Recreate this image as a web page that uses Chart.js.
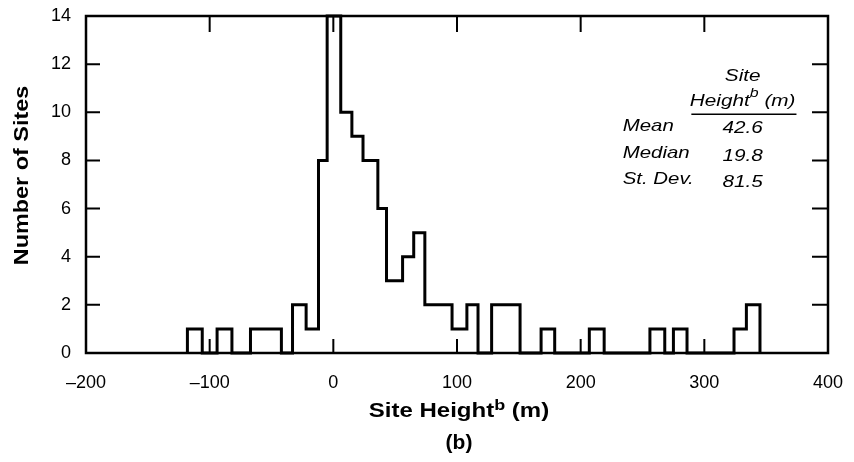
<!DOCTYPE html>
<html>
<head>
<meta charset="utf-8">
<script src="https://cdn.jsdelivr.net/npm/chart.js@4.4.0/dist/chart.umd.min.js"></script>
<style>
  html, body { margin: 0; padding: 0; background: #fff; }
  #wrap { width: 854px; height: 462px; }
</style>
</head>
<body>
<div id="wrap"><canvas id="chart" width="854" height="462"></canvas></div>
<script>
// histogram bin edges (m) and number of sites per bin
const binEdges = [-118, -106, -94, -82, -67, -54, -42, -33, -22, -12,
                  -5, 6, 15, 24, 36, 43, 56, 65, 74, 96,
                  108, 117, 128, 139, 151, 168, 179, 207, 219, 256,
                  268, 275, 286, 324, 334, 345];
const siteCounts = [1, 0, 1, 0, 1, 1, 0, 2, 1, 8,
                    14, 10, 9, 8, 6, 3, 4, 5, 2, 1,
                    2, 0, 2, 2, 0, 1, 0, 1, 0, 1,
                    0, 1, 0, 1, 2];

// summary table in the upper right
const statLabels = ['Mean', 'Median', 'St. Dev.'];
const statValues = ['42.6', '19.8', '81.5'];
const statRows = [9.24, 8.11, 7.02];   // baseline of each row, in y units

const FONT = '"Liberation Sans", Arial, Helvetica, sans-serif';

// turn bins into a step outline
const stepPoints = [{ x: binEdges[0], y: 0 }];
siteCounts.forEach(function(n, i) {
    stepPoints.push({ x: binEdges[i], y: n }, { x: binEdges[i + 1], y: n });
});
stepPoints.push({ x: binEdges[binEdges.length - 1], y: 0 });

// draws text made of runs [text, isSup], stretched horizontally by sx
function drawRuns(ctx, runs, x, y, style, size, sx, align, supRise) {
    const fontOf = sup => style + ' ' + (sup ? Math.round(size * 0.75) : size) + 'px ' + FONT;
    let w = 0;
    runs.forEach(r => { ctx.font = fontOf(r[1]); w += ctx.measureText(r[0]).width; });
    ctx.save();
    ctx.translate(x, y);
    ctx.scale(sx, 1);
    let cx = align === 'center' ? -w / 2 : (align === 'right' ? -w : 0);
    ctx.textAlign = 'left';
    ctx.textBaseline = 'alphabetic';
    ctx.fillStyle = '#000';
    runs.forEach(r => {
        ctx.font = fontOf(r[1]);
        ctx.fillText(r[0], cx, r[1] ? -supRise : 0);
        cx += ctx.measureText(r[0]).width;
    });
    ctx.restore();
}

const framePlugin = {
    id: 'frame',
    afterDraw(chart) {
        const ctx = chart.ctx;
        const a = chart.chartArea;
        const xs = chart.scales.x;
        const ys = chart.scales.y;
        const tickLen = 14;

        ctx.save();
        ctx.strokeStyle = '#000';
        ctx.lineWidth = 2.5;
        ctx.strokeRect(a.left, a.top, a.right - a.left, a.bottom - a.top);

        // inward ticks on all four sides
        ctx.lineWidth = 2;
        ctx.beginPath();
        xs.ticks.forEach(t => {
            if (t.value <= xs.min || t.value >= xs.max) return;
            const px = xs.getPixelForValue(t.value);
            ctx.moveTo(px, a.bottom); ctx.lineTo(px, a.bottom - tickLen);
            ctx.moveTo(px, a.top); ctx.lineTo(px, a.top + tickLen + 2);
        });
        ys.ticks.forEach(t => {
            if (t.value <= ys.min || t.value >= ys.max) return;
            const py = ys.getPixelForValue(t.value);
            ctx.moveTo(a.left, py); ctx.lineTo(a.left + tickLen, py);
            ctx.moveTo(a.right, py); ctx.lineTo(a.right - tickLen - 2, py);
        });
        ctx.stroke();

        // axis titles
        const midX = (a.left + a.right) / 2;
        drawRuns(ctx, [['Site Height', false], ['b', true], [' (m)', false]],
                 midX + 2, a.bottom + 64, 'bold', 20, 1.2, 'center', 7);
        drawRuns(ctx, [['(b)', false]], midX + 2, a.bottom + 96, 'bold', 20, 1.05, 'center', 0);

        ctx.save();
        ctx.translate(28, (a.top + a.bottom) / 2 - 9);
        ctx.rotate(-Math.PI / 2);
        drawRuns(ctx, [['Number of Sites', false]], 0, 0, 'bold', 20, 1.17, 'center', 0);
        ctx.restore();

        // summary table
        const colX = xs.getPixelForValue(331);
        const labX = xs.getPixelForValue(234);
        drawRuns(ctx, [['Site', false]], colX, ys.getPixelForValue(11.3), 'italic', 17, 1.22, 'center', 0);
        drawRuns(ctx, [['Height', false], ['b', true], [' (m)', false]],
                 colX, ys.getPixelForValue(10.26), 'italic', 17, 1.22, 'center', 9);
        ctx.lineWidth = 1.5;
        ctx.beginPath();
        const uy = ys.getPixelForValue(9.92);
        ctx.moveTo(xs.getPixelForValue(289.5), uy);
        ctx.lineTo(xs.getPixelForValue(374.5), uy);
        ctx.stroke();
        statLabels.forEach((lab, i) => {
            drawRuns(ctx, [[lab, false]], labX, ys.getPixelForValue(statRows[i]), 'italic', 17, 1.2, 'left', 0);
            drawRuns(ctx, [[statValues[i], false]], colX, ys.getPixelForValue(statRows[i] - 0.12), 'italic', 17, 1.22, 'center', 0);
        });
        ctx.restore();
    }
};

new Chart(document.getElementById('chart'), {
    type: 'scatter',
    data: {
        datasets: [{
            data: stepPoints,
            showLine: true,
            borderColor: '#000',
            borderWidth: 3,
            borderJoinStyle: 'miter',
            pointRadius: 0,
            pointHoverRadius: 0,
            tension: 0,
            clip: false
        }]
    },
    options: {
        responsive: false,
        animation: false,
        layout: { autoPadding: false, padding: { top: 16, right: 26, left: 0, bottom: 0 } },
        plugins: { legend: { display: false }, tooltip: { enabled: false } },
        scales: {
            x: {
                type: 'linear',
                min: -200,
                max: 400,
                afterFit: s => { s.height = 109; s.paddingLeft = 0; s.paddingRight = 0; },
                grid: { display: false, drawTicks: false },
                border: { display: false },
                ticks: {
                    stepSize: 100,
                    padding: 19,
                    color: '#000',
                    font: { family: FONT, size: 18 },
                    callback: v => v < 0 ? '\u2013' + Math.abs(v) : String(v)
                }
            },
            y: {
                min: 0,
                max: 14,
                afterFit: s => { s.width = 86; s.paddingTop = 0; s.paddingBottom = 0; },
                grid: { display: false, drawTicks: false },
                border: { display: false },
                ticks: {
                    stepSize: 2,
                    padding: 15,
                    color: '#000',
                    font: { family: FONT, size: 18 }
                }
            }
        }
    },
    plugins: [framePlugin]
});
</script>
</body>
</html>
